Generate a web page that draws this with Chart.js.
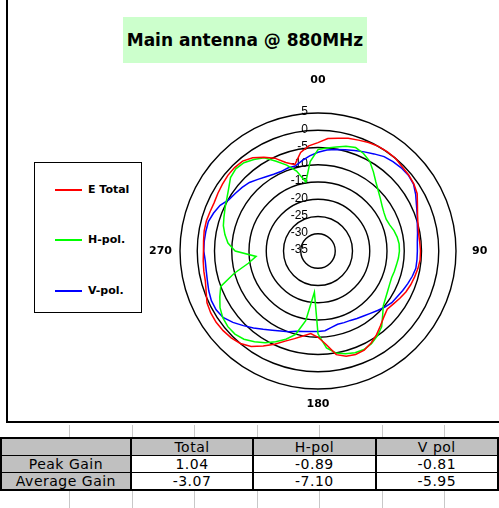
<!DOCTYPE html>
<html>
<head>
<meta charset="utf-8">
<script src="https://cdn.jsdelivr.net/npm/chart.js@4/dist/chart.umd.min.js"></script>
<style>
  html, body { margin: 0; padding: 0; background: #fff; }
  body { width: 499px; height: 508px; position: relative; overflow: hidden; }
  #frame { position: absolute; left: 6px; top: -2px; width: 520px; height: 423px;
           border-left: 2px solid #000; border-bottom: 2px solid #000; }
  #plot { position: absolute; left: 0; top: 0; }
  #title { position: absolute; left: 123px; top: 17px; width: 244px; height: 46px;
           background: #ccffcc; text-align: center;
           font: bold 17px "DejaVu Sans", Verdana, sans-serif; line-height: 46px; color: #000; }
  #legend { position: absolute; left: 34px; top: 162px; width: 106px; height: 149px;
            border: 1px solid #000; background: #fff; }
  .item { position: absolute; left: 20px; height: 14px; font: bold 11px "DejaVu Sans", Verdana, sans-serif;
          line-height: 14px; white-space: nowrap; }
  .swatch { display: inline-block; width: 27px; height: 2px; vertical-align: middle; margin-right: 6px; }
  #sheet { position: absolute; left: 0; top: 425px; width: 499px; height: 83px; }
  .vline { position: absolute; top: 0; width: 1px; height: 83px; background: #c8c8c8; }
  #stats { position: absolute; left: 0; top: 437px; border-collapse: collapse; table-layout: fixed;
           font: 14px "DejaVu Sans", Verdana, sans-serif; letter-spacing: 0.5px; color: #000; }
  #stats td { height: 16px; padding: 0; text-align: center; line-height: 16px;
              border-left: 2px solid #000; border-right: 2px solid #000;
              border-top: 1px solid #000; border-bottom: 1px solid #000; background: #fff; }
  #stats tr:first-child td { border-top: 2px solid #000; background: #c0c0c0; }
  #stats tr:last-child td { border-bottom: 2px solid #000; }
  #stats td.head { background: #c0c0c0; }
</style>
</head>
<body>
<div id="sheet"></div>
<div id="frame"></div>
<canvas id="plot" width="499" height="425"></canvas>
<div id="title">Main antenna @ 880MHz</div>
<div id="legend"></div>
<table id="stats"></table>

<script>
// Azimuth of each sample, degrees, clockwise from the top
const angles = [
  0, 5, 10, 15, 20, 25, 30, 35, 40, 45, 50, 55, 60, 65, 70, 75, 80, 85,
  90, 95, 100, 105, 110, 115, 120, 125, 130, 135, 140, 145, 150, 155, 160, 165, 170, 175,
  180, 185, 190, 195, 200, 205, 210, 215, 220, 225, 230, 235, 240, 245, 250, 255, 260, 265,
  270, 275, 280, 285, 290, 295, 300, 305, 310, 315, 320, 325, 330, 335, 340, 345, 350, 355
];

// Gain in dB at each azimuth
const eTotal = [
  -3.6, -2.3, -1.8, -1.2, -0.8, -0.3, 0.0, 0.1, 0.0, -0.5, -0.7, -1.1, -1.8, -3.2, -4.3, -5.0, -5.4, -5.4,
  -5.3, -5.3, -5.6, -6.0, -6.4, -6.9, -7.6, -8.3, -8.8, -8.0, -6.8, -5.4, -4.2, -3.3, -3.1, -3.4, -4.5, -7.8,
  -10.0, -11.0, -10.0, -8.7, -7.2, -5.2, -3.2, -1.2, 0.0, 0.6, 0.9, 1.04, 0.9, 0.5, -0.5, -1.2, -1.4, -1.6,
  -1.8, -1.7, -1.5, -1.5, -1.7, -1.8, -1.5, -1.2, -0.9, -0.8, -1.0, -2.0, -3.6, -5.3, -7.7, -9.1, -6.0, -4.4
];
const hPol = [
  -5.6, -5.0, -4.4, -3.6, -3.1, -3.8, -5.0, -7.0, -8.9, -10.3, -11.4, -12.3, -12.9, -13.2, -12.9, -12.2, -11.7, -11.4,
  -11.4, -11.6, -11.9, -12.1, -12.3, -12.1, -11.7, -11.1, -10.3, -8.5, -6.3, -5.0, -4.0, -3.5, -3.6, -4.2, -5.0, -6.8,
  -11.0, -23.0, -14.5, -10.0, -7.8, -6.0, -4.3, -2.9, -1.6, -0.95, -0.89, -1.3, -2.2, -3.6, -5.0, -9.8, -14.5, -17.0,
  -11.0, -8.8, -7.6, -6.6, -6.0, -5.3, -4.5, -3.4, -1.9, -1.3, -1.6, -2.6, -3.8, -6.3, -8.5, -11.0, -14.7, -9.0
];
const vPol = [
  -6.4, -5.6, -5.1, -4.6, -4.0, -3.3, -2.5, -1.6, -1.2, -0.9, -0.81, -1.2, -2.3, -3.5, -4.4, -5.2, -5.7, -6.1,
  -6.2, -6.2, -6.2, -6.7, -7.3, -7.9, -8.5, -8.9, -9.7, -10.6, -11.4, -12.0, -12.4, -12.8, -12.9, -13.0, -12.5, -11.8,
  -11.7, -11.6, -11.3, -10.9, -10.1, -9.4, -8.5, -7.3, -5.9, -4.4, -2.8, -1.4, -0.9, -0.9, -1.3, -1.8, -2.1, -2.2,
  -1.9, -1.9, -2.0, -2.1, -2.8, -3.7, -5.2, -5.8, -6.3, -6.9, -7.9, -8.7, -9.3, -9.6, -9.4, -9.5, -8.4, -7.3
];

const seriesNames = ['E Total', 'H-pol.', 'V-pol.'];
const seriesColors = ['#ff0000', '#00ff00', '#0000ff'];

// Radial axis ticks (dB) and the labelled azimuths
const radialTicks = [5, 0, -5, -10, -15, -20, -25, -30, -35];
const axisAngles = [0, 90, 180, 270];
const axisAngleText = ['00', '90', '180', '270'];

// Summary table
const tableCols = ['Total', 'H-pol', 'V pol'];
const rowNames = ['Peak Gain', 'Average Gain'];
const peakGain = [1.04, -0.89, -0.81];
const avgGain = [-3.07, -7.10, -5.95];

// Spreadsheet column rules behind the table
const sheetCols = [69, 132, 194, 257, 319, 382, 444];
const sheet = document.getElementById('sheet');
sheetCols.forEach(x => {
  const d = document.createElement('div');
  d.className = 'vline';
  d.style.left = x + 'px';
  sheet.appendChild(d);
});

// Legend
const legend = document.getElementById('legend');
const legendRows = [20, 70, 121];
seriesNames.forEach((name, i) => {
  const it = document.createElement('div');
  it.className = 'item';
  it.style.top = legendRows[i] + 'px';
  const sw = document.createElement('span');
  sw.className = 'swatch';
  sw.style.background = seriesColors[i];
  it.appendChild(sw);
  it.appendChild(document.createTextNode(name));
  legend.appendChild(it);
});

// Table
const table = document.getElementById('stats');
const colWidths = [130, 123, 123, 123];
const hdr = table.insertRow();
['', ...tableCols].forEach((t, i) => {
  const c = hdr.insertCell();
  c.textContent = t;
  c.style.width = colWidths[i] + 'px';
});
[peakGain, avgGain].forEach((vals, r) => {
  const row = table.insertRow();
  const c0 = row.insertCell();
  c0.textContent = rowNames[r];
  c0.className = 'head';
  vals.forEach(v => { row.insertCell().textContent = v.toFixed(2); });
});

// Axis text: dB labels along the upward spoke and the cardinal azimuths
const labelGaps = [27, 16, 10, 8];
const axisText = {
  id: 'axisText',
  beforeDatasetsDraw(chart) {
    const s = chart.scales.r;
    const ctx = chart.ctx;
    ctx.save();
    ctx.fillStyle = '#000';
    ctx.font = '12px "Liberation Sans", Arial, sans-serif';
    ctx.textAlign = 'right';
    ctx.textBaseline = 'middle';
    radialTicks.forEach(v => {
      const d = s.getDistanceFromCenterForValue(v);
      ctx.fillText(String(v), s.xCenter - 10, s.yCenter - d - 1);
    });
    ctx.font = 'bold 11px "DejaVu Sans", Verdana, sans-serif';
    const aligns = [['center', 'bottom'], ['left', 'middle'], ['center', 'top'], ['right', 'middle']];
    axisAngles.forEach((a, i) => {
      const idx = angles.indexOf(a);
      const p = s.getPointPosition(idx, s.drawingArea + labelGaps[i]);
      ctx.textAlign = aligns[i][0];
      ctx.textBaseline = aligns[i][1];
      ctx.fillText(axisAngleText[i], p.x, p.y);
    });
    ctx.restore();
  }
};

new Chart(document.getElementById('plot'), {
  type: 'radar',
  data: {
    labels: angles.map(String),
    datasets: [eTotal, hPol, vPol].map((d, i) => ({
      label: seriesNames[i],
      data: d,
      borderColor: seriesColors[i],
      backgroundColor: seriesColors[i],
      borderWidth: 1.5,
      fill: false,
      pointRadius: 0,
      tension: 0
    }))
  },
  options: {
    responsive: false,
    animation: false,
    layout: { padding: { left: 180, top: 113, right: 42, bottom: 35 } },
    plugins: { legend: { display: false }, title: { display: false }, tooltip: { enabled: false } },
    scales: {
      r: {
        min: -35,
        max: 5,
        ticks: { stepSize: 5, display: false },
        grid: { circular: true, color: '#000', lineWidth: 1.4 },
        angleLines: { display: false },
        pointLabels: { display: false }
      }
    }
  },
  plugins: [axisText]
});
</script>
</body>
</html>
